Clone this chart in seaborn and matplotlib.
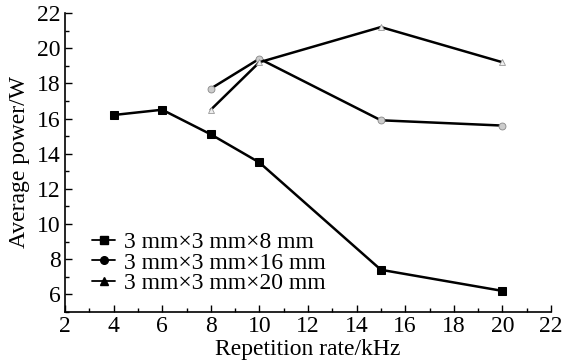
import matplotlib
matplotlib.use("Agg")
import matplotlib.pyplot as plt
from matplotlib.lines import Line2D
from matplotlib.ticker import MultipleLocator
import seaborn as sns
import pandas as pd

sns.set_theme(style="ticks")
plt.rcParams['font.family'] = ['Liberation Serif', 'DejaVu Serif']
plt.rcParams['text.color'] = 'black'

labels = ["3 mm×3 mm×8 mm", "3 mm×3 mm×16 mm", "3 mm×3 mm×20 mm"]
x1 = [4, 6, 8, 10, 15, 20]
y1 = [16.2, 16.5, 15.1, 13.5, 7.4, 6.2]
x2 = [8, 10, 15, 20]
y2 = [17.7, 19.4, 15.9, 15.6]
x3 = [8, 10, 15, 20]
y3 = [16.5, 19.2, 21.2, 19.2]

fig = plt.figure(figsize=(5.62, 3.62), dpi=100)
ax = fig.add_axes([65/562, 1-312/362, 486/562, (312-13)/362])

sns.lineplot(x=x1, y=y1, ax=ax, color="black", lw=1.8, marker="s", markersize=5.5,
             markeredgecolor="black", markerfacecolor="black")
sns.lineplot(x=x2, y=y2, ax=ax, color="black", lw=1.8, marker="o", markersize=5,
             markeredgecolor="#888888", markerfacecolor="#cccccc", markeredgewidth=0.6)
sns.lineplot(x=x3, y=y3, ax=ax, color="black", lw=1.8, marker="^", markersize=5,
             markeredgecolor="#999999", markerfacecolor="#eeeeee", markeredgewidth=0.6)

handles = [Line2D([0], [0], color="black", lw=1.3, marker=m, markersize=5.5)
           for m in ["s", "o", "^"]]
ax.legend(handles, labels, loc="lower left", bbox_to_anchor=(0.055, 0.06), frameon=False,
          fontsize=17, handlelength=1.0, handletextpad=0.35, labelspacing=-0.05,
          borderaxespad=0, borderpad=0, labelcolor="black")

ax.set_xlim(2, 22)
ax.set_ylim(5, 22)
ax.xaxis.set_major_locator(MultipleLocator(2))
ax.xaxis.set_minor_locator(MultipleLocator(1))
ax.yaxis.set_major_locator(MultipleLocator(2))
ax.yaxis.set_minor_locator(MultipleLocator(1))
ax.set_yticks([6, 8, 10, 12, 14, 16, 18, 20, 22])
ax.tick_params(which="both", direction="in", color="black", width=1, labelsize=17,
               labelcolor="black")
ax.tick_params(which="major", length=5, pad=3)
ax.tick_params(which="minor", length=3)
for s in ["left", "bottom"]:
    ax.spines[s].set_color("black")
    ax.spines[s].set_linewidth(1.2)
sns.despine(ax=ax)

ax.set_xlabel("Repetition rate/kHz", fontsize=17, color="black", labelpad=1)
ax.set_ylabel("Average power/W", fontsize=17, color="black", labelpad=5)

fig.savefig("out.png", dpi=100)
